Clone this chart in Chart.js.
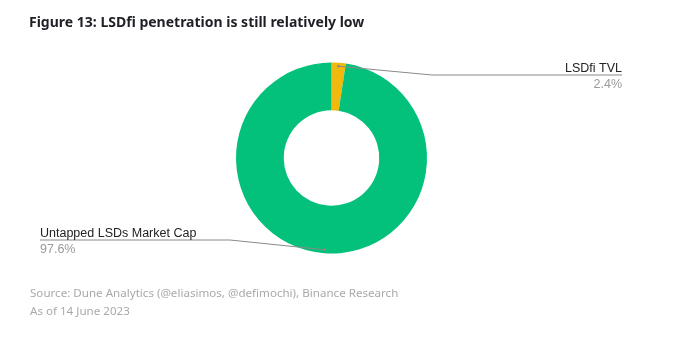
<!DOCTYPE html>
<html>
<head>
<meta charset="utf-8">
<script src="https://cdn.jsdelivr.net/npm/chart.js@4"></script>
<style>
  body { margin: 0; background: #fff; width: 691px; height: 354px; overflow: hidden; position: relative; font-family: "Noto Sans", sans-serif; }
  #title { position: absolute; left: 29px; top: 12px; font-size: 14px; font-weight: bold; color: #1e2026; }
  .note { position: absolute; left: 30px; font-size: 11.6px; color: #a9a9a9; }
  canvas { position: absolute; left: 0; top: 0; }
</style>
</head>
<body>
<canvas id="penetrationChart" width="691" height="354"></canvas>
<div id="title">Figure 13: LSDfi penetration is still relatively low</div>
<div class="note" style="top:285px">Source: Dune Analytics (@eliasimos, @defimochi), Binance Research</div>
<div class="note" style="top:303px">As of 14 June 2023</div>
<script>
// data
const labels = ['LSDfi TVL', 'Untapped LSDs Market Cap'];
const shares = [2.4, 97.6];
const colors = ['#f0b90b', '#03c17a'];

// leader lines + labels
const calloutPlugin = {
    id: 'callouts',
    afterDatasetsDraw(chart) {
        const ctx = chart.ctx;
        const arcs = chart.getDatasetMeta(0).data;
        const layout = [
            { bend: [432, 75], end: 622, align: 'right' },
            { bend: [230, 240], end: 40, align: 'left' }
        ];
        arcs.forEach((arc, i) => {
            const mid = (arc.startAngle + arc.endAngle) / 2;
            const r = arc.outerRadius - 3.5;
            const sx = arc.x + Math.cos(mid) * r;
            const sy = arc.y + Math.sin(mid) * r;
            const l = layout[i];
            ctx.save();
            ctx.strokeStyle = '#8a8a8a';
            ctx.lineWidth = 1;
            ctx.beginPath();
            ctx.moveTo(sx, sy);
            ctx.lineTo(l.bend[0], l.bend[1]);
            ctx.lineTo(l.end, l.bend[1]);
            ctx.stroke();
            ctx.fillStyle = '#8a8a8a';
            ctx.beginPath();
            ctx.arc(sx, sy, 1.3, 0, Math.PI * 2);
            ctx.fill();
            ctx.textAlign = l.align;
            ctx.textBaseline = 'alphabetic';
            ctx.font = '12.5px "Liberation Sans", Arial, sans-serif';
            ctx.fillStyle = '#222';
            ctx.fillText(labels[i], l.end, l.bend[1] - 3);
            ctx.fillStyle = '#9a9a9a';
            ctx.fillText(shares[i].toFixed(1) + '%', l.end, l.bend[1] + 13);
            ctx.restore();
        });
    }
};

const penetrationCtx = document.getElementById('penetrationChart').getContext('2d');
new Chart(penetrationCtx, {
    type: 'doughnut',
    data: {
        labels: labels,
        datasets: [{
            data: shares,
            backgroundColor: colors,
            borderWidth: 0
        }]
    },
    options: {
        responsive: false,
        animation: false,
        cutout: '50%',
        layout: { padding: { top: 62.5, bottom: 100.5, left: 236, right: 264 } },
        plugins: {
            legend: { display: false },
            tooltip: { enabled: false }
        }
    },
    plugins: [calloutPlugin]
});
</script>
</body>
</html>
